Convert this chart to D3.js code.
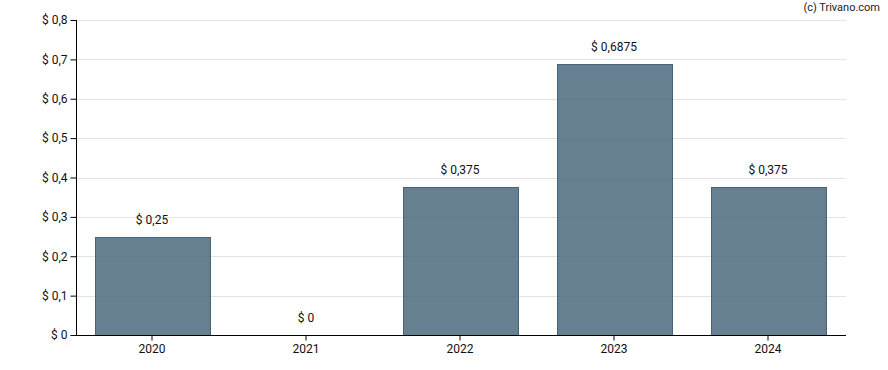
<!DOCTYPE html>
<html><head><meta charset="utf-8">
<script src="https://cdn.jsdelivr.net/npm/d3@7"></script>
<style>body{margin:0;background:#fff;}text{font-family:Roboto,sans-serif;}</style>
</head><body><svg id="c" width="888" height="370"></svg>
<script>
const categories = ["2020","2021","2022","2023","2024"];
const values = [0.25, 0, 0.375, 0.6875, 0.375];
const valueLabels = ["$ 0,25","$ 0","$ 0,375","$ 0,6875","$ 0,375"];
const yTicks = [0,0.1,0.2,0.3,0.4,0.5,0.6,0.7,0.8];
const yTickLabels = ["$ 0","$ 0,1","$ 0,2","$ 0,3","$ 0,4","$ 0,5","$ 0,6","$ 0,7","$ 0,8"];

const svg = d3.select("#c");
const m = {l:76, r:42, t:20, b:35};
const W = 888, H = 370;
const x = d3.scaleBand().domain(categories).range([75, 845]).paddingInner(0.256).paddingOuter(0.128);
const y = d3.scaleLinear().domain([0,0.8]).range([H-m.b, m.t]);

// grid
svg.append("g").selectAll("line").data(yTicks.slice(1)).join("line")
  .attr("x1", m.l).attr("x2", W-m.r)
  .attr("y1", d=>Math.round(y(d))+0.5).attr("y2", d=>Math.round(y(d))+0.5)
  .attr("stroke","#e3e3e3").attr("stroke-width",1);

// bars
svg.append("g").selectAll("rect").data(values).join("rect")
  .attr("x",(d,i)=>Math.round(x(categories[i]))+0.5)
  .attr("y",d=>Math.round(y(d))+0.5)
  .attr("width",Math.round(x.bandwidth()))
  .attr("height",d=>Math.max(0,Math.round(y(0))-Math.round(y(d))))
  .attr("fill","rgb(75,106,126)").attr("fill-opacity",0.85)
  .attr("stroke","#48627a").attr("stroke-width",1)
  .style("display",d=>d>0?null:"none");

// value labels
svg.append("g").selectAll("text").data(values).join("text")
  .attr("x",(d,i)=>x(categories[i])+x.bandwidth()/2)
  .attr("y",d=>y(d)-13)
  .attr("text-anchor","middle").attr("font-size",12).attr("fill","#111")
  .text((d,i)=>valueLabels[i]);

// y axis
const ya = svg.append("g").attr("transform",`translate(${m.l+0.5},0)`)
  .call(d3.axisLeft(y).tickValues(yTicks).tickFormat((d,i)=>yTickLabels[i]).tickSize(6).tickPadding(3));
ya.selectAll("text").attr("font-size",12).attr("fill","#111").style("font-family","Roboto,sans-serif");
ya.selectAll("path,line").attr("stroke","#000");
ya.select(".domain").attr("d",`M0,${m.t}V${H-m.b}`);

// x axis
const xa = svg.append("g").attr("transform",`translate(0,${Math.round(y(0))+0.5})`)
  .call(d3.axisBottom(x).tickSize(5).tickPadding(4));
xa.selectAll("text").attr("font-size",12).attr("fill","#111").style("font-family","Roboto,sans-serif");
xa.selectAll("path,line").attr("stroke","#000");
xa.select(".domain").attr("d",`M${m.l},0H${W-m.r}`);

svg.append("text").attr("x",W-8).attr("y",11).attr("text-anchor","end")
  .attr("font-size",11).attr("fill","#222").text("(c) Trivano.com");
</script></body></html>
